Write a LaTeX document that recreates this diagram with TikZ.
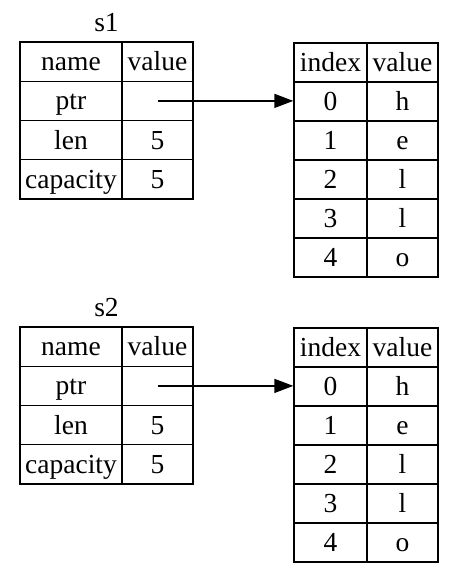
\documentclass[tikz,border=0pt]{standalone}
\usepackage{fontspec}
\setmainfont{Liberation Serif}
\usetikzlibrary{arrows.meta}
\begin{document}
\begin{tikzpicture}[x=1pt,y=-1pt,
  cell/.style={draw=black,line width=1.4pt,rectangle,inner sep=0pt,
    minimum height=39.25pt,text height=18pt,text depth=0pt,
    font=\fontsize{27.5}{32}\selectfont},
  ncol/.style={cell,minimum width=102pt},
  vcol/.style={cell,minimum width=71pt},
  icol/.style={cell,minimum width=73pt},
  rcol/.style={cell,minimum width=71pt,minimum height=39pt},
  ticol/.style={icol,minimum height=39pt},
  title/.style={font=\fontsize{27.5}{32}\selectfont,anchor=base,inner sep=0pt},
  ptrarrow/.style={line width=1.5pt,-{Triangle[length=19pt,width=14pt]}}]
\useasboundingbox (0,0) rectangle (461,573);
\foreach \s/\o in {1/0,2/285}{
  % left table
  \node[title] (t\s) at (106.5,31+\o) {s\s};
  \node[ncol] (s\s-hn) at (71,61.6+\o) {name};
  \node[vcol] (s\s-hv) at (157.5,61.6+\o) {value};
  \node[ncol] (s\s-pn) at (71,100.9+\o) {ptr};
  \node[vcol] (s\s-pv) at (157.5,100.9+\o) {};
  \node[ncol] (s\s-ln) at (71,140.1+\o) {len};
  \node[vcol] (s\s-lv) at (157.5,140.1+\o) {5};
  \node[ncol] (s\s-cn) at (71,179.4+\o) {capacity};
  \node[vcol] (s\s-cv) at (157.5,179.4+\o) {5};
  % right table
  \node[ticol] (h\s-hi) at (330.5,62.5+\o) {index};
  \node[rcol] (h\s-hv) at (402.5,62.5+\o) {value};
  \node[ticol] (h\s-i0) at (330.5,101.5+\o) {0};
  \node[rcol] (h\s-v0) at (402.5,101.5+\o) {h};
  \node[ticol] (h\s-i1) at (330.5,140.5+\o) {1};
  \node[rcol] (h\s-v1) at (402.5,140.5+\o) {e};
  \node[ticol] (h\s-i2) at (330.5,179.5+\o) {2};
  \node[rcol] (h\s-v2) at (402.5,179.5+\o) {l};
  \node[ticol] (h\s-i3) at (330.5,218.5+\o) {3};
  \node[rcol] (h\s-v3) at (402.5,218.5+\o) {l};
  \node[ticol] (h\s-i4) at (330.5,257.5+\o) {4};
  \node[rcol] (h\s-v4) at (402.5,257.5+\o) {o};
  \draw[ptrarrow] (s\s-pv.center) -- (s\s-pv.center -| h\s-i0.west);
}
\end{tikzpicture}
\end{document}
